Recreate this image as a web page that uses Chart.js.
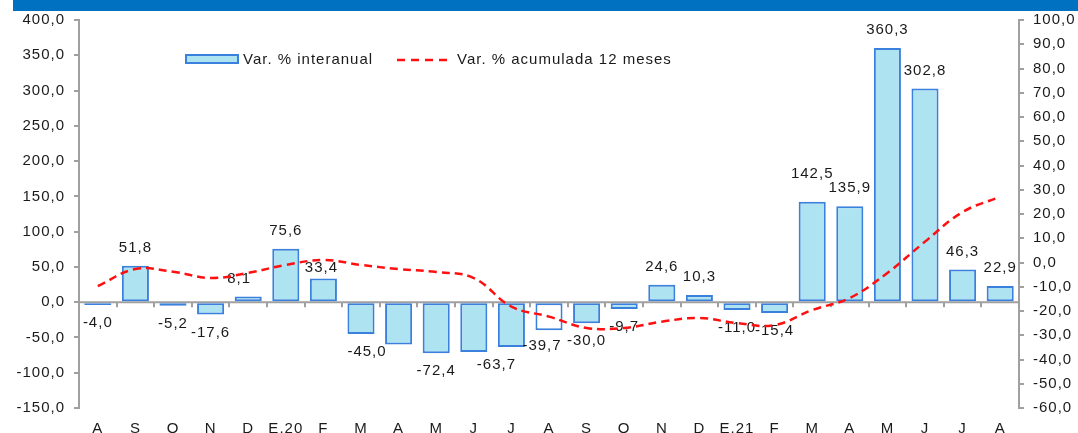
<!DOCTYPE html>
<html>
<head>
<meta charset="utf-8">
<script src="https://cdn.jsdelivr.net/npm/chart.js@4.4.0/dist/chart.umd.min.js"></script>
<style>
html, body { margin: 0; padding: 0; background: #fff; }
#wrap { position: relative; width: 1078px; height: 433px; }
#topBar { position: absolute; left: 13px; top: 0; width: 1065px; height: 11px; background: #0070c0; }
</style>
</head>
<body>
<div id="wrap">
  <canvas id="myChart" width="1078" height="433"></canvas>
  <div id="topBar"></div>
</div>
<script>
'use strict';
let months = ['A','S','O','N','D','E.20','F','M','A','M','J','J','A','S','O','N','D','E.21','F','M','A','M','J','J','A'];
let interanual = [-4.0, 51.8, -5.2, -17.6, 8.1, 75.6, 33.4, -45.0, -60.0, -72.4, -70.5, -63.7, -39.7, -30.0, -9.7, 24.6, 10.3, -11.0, -15.4, 142.5, 135.9, 360.3, 302.8, 46.3, 22.9];
let acumulada = [-9.7, -2.7, -3.8, -6.4, -4.3, -1.0, 1.0, -1.0, -2.7, -3.9, -6.4, -18.2, -22.3, -27.0, -27.0, -24.4, -22.9, -25.0, -25.8, -19.6, -14.6, -4.3, 8.6, 20.8, 27.1];
let hiddenLabels = [8, 10]; // these bars have no value label in the original
let leftTicks = [400, 350, 300, 250, 200, 150, 100, 50, 0, -50, -100, -150];
let rightTicks = [100, 90, 80, 70, 60, 50, 40, 30, 20, 10, 0, -10, -20, -30, -40, -50, -60];
let seriesNames = ['Var. % interanual', 'Var. % acumulada 12 meses'];

let barFill = '#aee3f1';
let barBorder = '#3a80dc';
let lineRed = '#ff1010';
let axisGray = '#a0a0a0';

// small nudges of a few value labels, like in the original picture
let labelNudge = { 4: [-9, 0], 6: [-2, 7], 7: [6, 0], 11: [-15, 0], 12: [-7, -2], 19: [0, -10] };

function fmt(v) {
  return v.toFixed(1).replace('.', ',');
}

Chart.defaults.font.family = "'Liberation Sans', Arial, sans-serif";
Chart.defaults.font.size = 15;
Chart.defaults.color = '#1a1a1a';

let spacingPlugin = {
  id: 'spacing',
  beforeLayout(chart) { chart.ctx.letterSpacing = '1px'; },
  beforeDraw(chart) { chart.ctx.letterSpacing = '1px'; }
};

// zero line with its small tick marks between the months
let zeroLinePlugin = {
  id: 'zeroLine',
  beforeDatasetsDraw(chart) {
    let ctx = chart.ctx;
    let x = chart.scales.x;
    let y0 = chart.scales.y.getPixelForValue(0);
    let area = chart.chartArea;
    ctx.save();
    ctx.strokeStyle = axisGray;
    ctx.lineWidth = 2;
    ctx.beginPath();
    ctx.moveTo(area.left, y0);
    ctx.lineTo(area.right, y0);
    let step = (area.right - area.left) / months.length;
    for (let i = 1; i < months.length; i++) {
      let tx = Math.round(area.left + i * step);
      ctx.moveTo(tx, y0);
      ctx.lineTo(tx, y0 + 5);
    }
    ctx.stroke();
    ctx.restore();
  }
};

let valueLabelPlugin = {
  id: 'valueLabels',
  afterDatasetDraw(chart, args) {
    if (args.meta.type !== 'bar') return;
    let ctx = chart.ctx;
    ctx.save();
    ctx.font = "15px 'Liberation Sans', Arial, sans-serif";
    ctx.letterSpacing = '1px';
    ctx.fillStyle = '#1a1a1a';
    ctx.textAlign = 'center';
    ctx.textBaseline = 'middle';
    args.meta.data.forEach(function (bar, i) {
      if (hiddenLabels.includes(i)) return;
      let v = interanual[i];
      let nudge = labelNudge[i] || [0, 0];
      let ly = v >= 0 ? bar.y - 18 : bar.y + 18;
      ctx.fillText(fmt(v), bar.x + nudge[0], ly + nudge[1]);
    });
    ctx.restore();
  }
};

let legendPlugin = {
  id: 'ownLegend',
  afterDraw(chart) {
    let ctx = chart.ctx;
    ctx.save();
    ctx.fillStyle = barFill;
    ctx.strokeStyle = barBorder;
    ctx.lineWidth = 2;
    ctx.fillRect(186, 55, 52, 8);
    ctx.strokeRect(186, 55, 52, 8);
    ctx.strokeStyle = lineRed;
    ctx.lineWidth = 2.5;
    ctx.setLineDash([8, 6]);
    ctx.beginPath();
    ctx.moveTo(397, 60);
    ctx.lineTo(449, 60);
    ctx.stroke();
    ctx.setLineDash([]);
    ctx.font = "15px 'Liberation Sans', Arial, sans-serif";
    ctx.letterSpacing = '1px';
    ctx.fillStyle = '#1a1a1a';
    ctx.textBaseline = 'middle';
    ctx.fillText(seriesNames[0], 243, 60);
    ctx.fillText(seriesNames[1], 457, 60);
    ctx.restore();
  }
};

let barColors = interanual.map(function (v, i) { return i === 12 ? '#ffffff' : barFill; });

let context = document.getElementById('myChart').getContext('2d');
let chart = new Chart(context, {
  data: {
    labels: months,
    datasets: [{
      type: 'line',
      label: seriesNames[1],
      data: acumulada,
      yAxisID: 'y1',
      borderColor: lineRed,
      borderWidth: 2.5,
      borderDash: [8, 5],
      tension: 0.4,
      pointRadius: 0,
      fill: false,
      order: 0
    }, {
      type: 'bar',
      label: seriesNames[0],
      data: interanual,
      yAxisID: 'y',
      backgroundColor: barColors,
      borderColor: barBorder,
      borderWidth: 2,
      borderSkipped: false,
      barPercentage: 0.72,
      categoryPercentage: 1,
      order: 1
    }]
  },
  options: {
    responsive: false,
    animation: false,
    layout: { padding: { top: 20, left: 0, right: 0, bottom: 0 } },
    plugins: { legend: { display: false }, tooltip: { enabled: false } },
    scales: {
      x: {
        offset: true,
        grid: { display: false, drawTicks: false },
        border: { display: false },
        ticks: { padding: 12, maxRotation: 0, autoSkip: false },
        afterFit(s) { s.height = 25; }
      },
      y: {
        position: 'left',
        min: -150,
        max: 400,
        grid: { drawOnChartArea: false, tickLength: 5, color: axisGray, lineWidth: 2 },
        border: { color: axisGray, width: 2 },
        ticks: { padding: 9, callback: fmt },
        afterBuildTicks(s) { s.ticks = leftTicks.map(v => ({ value: v })); },
        afterFit(s) { s.width = 79; }
      },
      y1: {
        position: 'right',
        min: -60,
        max: 100,
        grid: { drawOnChartArea: false, tickLength: 5, color: axisGray, lineWidth: 2 },
        border: { color: axisGray, width: 2 },
        ticks: { padding: 9, callback: fmt },
        afterBuildTicks(s) { s.ticks = rightTicks.map(v => ({ value: v })); },
        afterFit(s) { s.width = 59; }
      }
    }
  },
  plugins: [spacingPlugin, zeroLinePlugin, valueLabelPlugin, legendPlugin]
});
</script>
</body>
</html>
